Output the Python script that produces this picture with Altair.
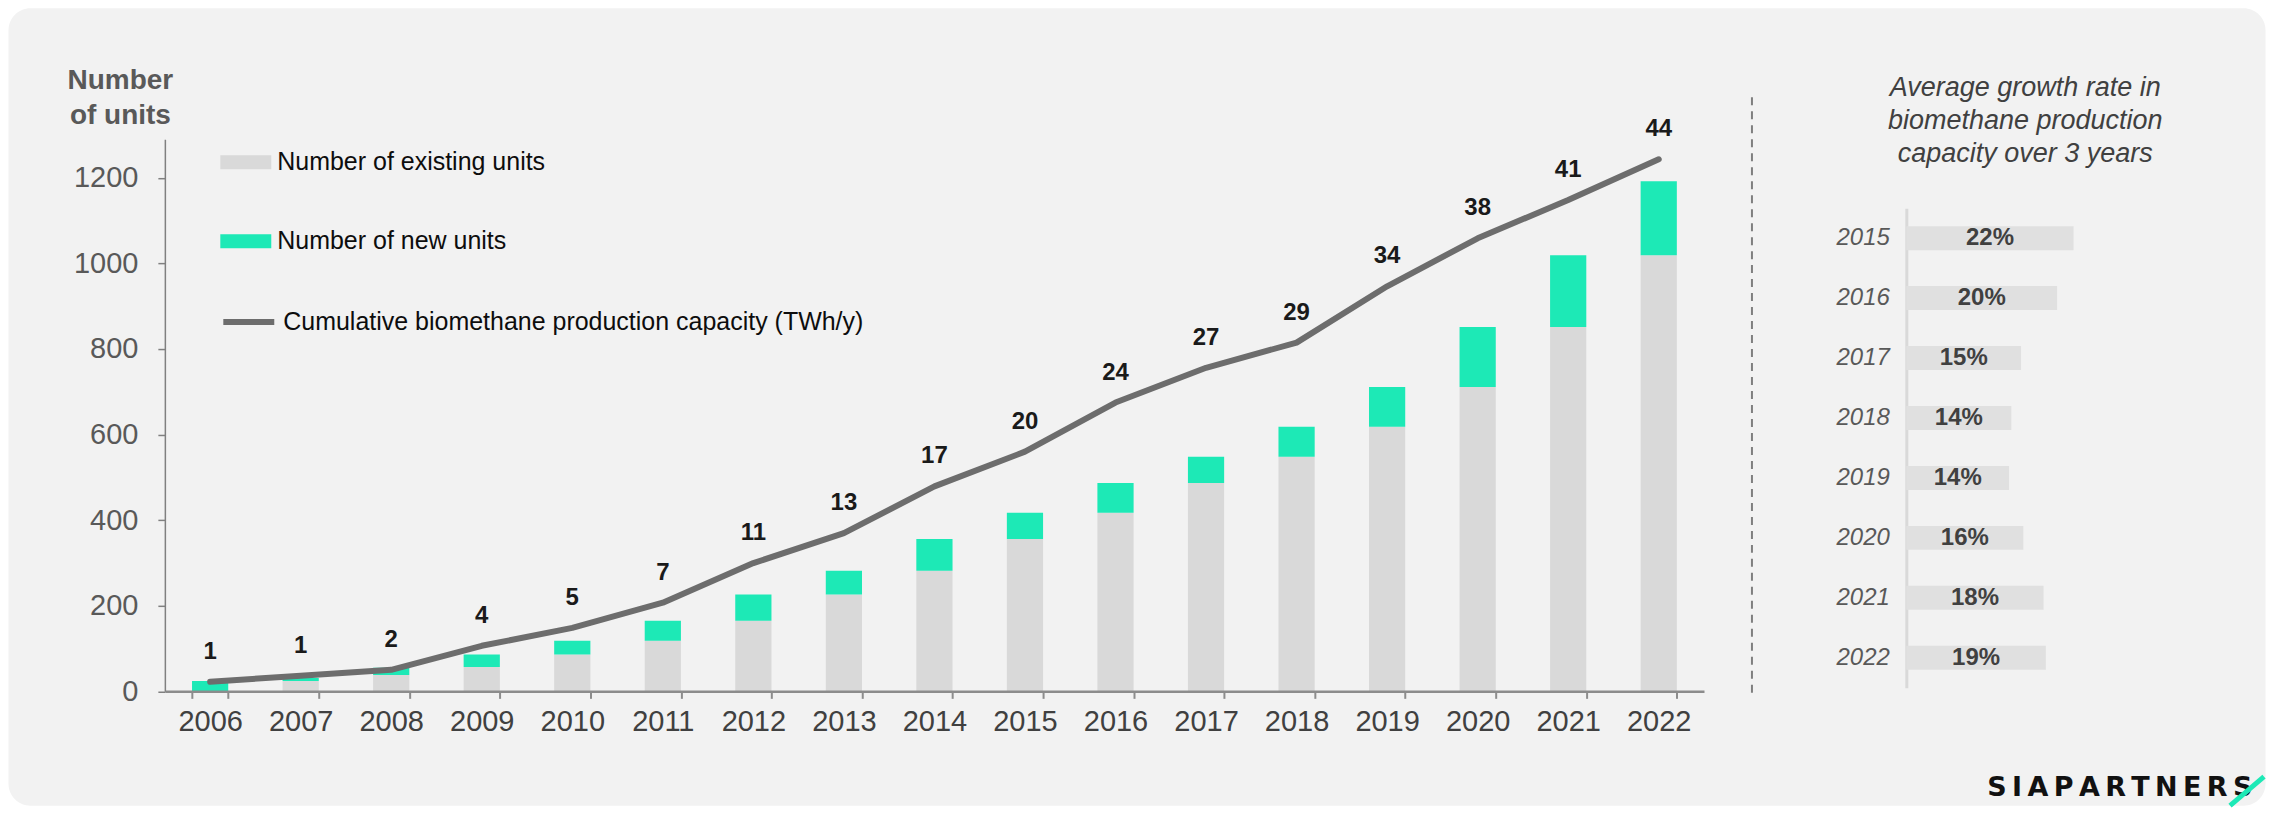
import altair as alt
import pandas as pd

# ---------------- data ----------------
years = [str(y) for y in range(2006, 2023)]
existing_units = [0, 24, 38, 57, 86, 118, 165, 226, 282, 356, 417, 487, 548, 618, 711, 851, 1019]
new_units = [24, 7, 17, 29, 32, 47, 61, 56, 74, 61, 70, 61, 70, 93, 140, 168, 173]
capacity_twh = [0.8, 1.3, 1.8, 3.8, 5.3, 7.4, 10.7, 13.2, 17.1, 20.0, 24.1, 27.0, 29.1, 33.8, 37.8, 41.0, 44.4]

growth_years = [str(y) for y in range(2015, 2023)]
growth_rate = [22.3, 20.1, 15.3, 14.0, 13.7, 15.6, 18.3, 18.6]

series_names = ["Number of existing units", "Number of new units"]
line_name = "Cumulative biomethane production capacity (TWh/y)"
y_ticks = [0, 200, 400, 600, 800, 1000, 1200]
growth_title = ["Average growth rate in", "biomethane production", "capacity over 3 years"]
logo_text = "\u2009".join("SIAPARTNERS")

# ---------------- tables ----------------
bar_rows = []
for i, y in enumerate(years):
    bar_rows.append({"year": y, "series": series_names[0], "units": existing_units[i], "ord": 0})
    bar_rows.append({"year": y, "series": series_names[1], "units": new_units[i], "ord": 1})
bar_df = pd.DataFrame(bar_rows)
cap_df = pd.DataFrame({"year": years, "capacity": capacity_twh, "series": [line_name] * len(years)})
growth_df = pd.DataFrame({"year": growth_years, "growth": growth_rate})
one = pd.DataFrame({"k": [0]})

SANS = "Liberation Sans, Arial, sans-serif"
rect_path = "M-1,-0.275L1,-0.275L1,0.275L-1,0.275Z"

LW = 1540.5
LH = 552.6

x_enc = alt.X(
    "year:N", sort=years,
    scale=alt.Scale(paddingInner=0.6, paddingOuter=0.3),
    axis=alt.Axis(title=None, labelAngle=0, labelFont=SANS, labelFontSize=29, zindex=1,
                  labelColor="#404040", labelPadding=9, tickBand="extent", tickSize=7,
                  tickWidth=2, tickColor="#8c8c8c", domainColor="#8c8c8c", domainWidth=2.5),
)

bg = alt.Chart(one).mark_rect(fill="#f2f2f2", cornerRadius=22).encode(
    x=alt.value(-156.5), x2=alt.value(2102.5), y=alt.value(-131), y2=alt.value(667)
)

divider = alt.Chart(one).mark_rule(color="#7f7f7f", strokeWidth=2, strokeDash=[8, 6]).encode(
    x=alt.value(1588.5), y=alt.value(-42), y2=alt.value(559)
)

bars = alt.Chart(bar_df).mark_bar().encode(
    x=x_enc,
    y=alt.Y("units:Q", stack="zero",
            scale=alt.Scale(domain=[0, 1290], nice=False),
            axis=alt.Axis(values=y_ticks, format="d", grid=False, labelFont=SANS, labelFontSize=29,
                          zindex=1, labelColor="#595959", labelPadding=20, tickSize=7, tickWidth=1.5,
                          tickColor="#808080", domainColor="#808080", domainWidth=1.5,
                          title=["Number", "of units"], titleAngle=0, titleAlign="center",
                          titleBaseline="alphabetic", titleX=-45, titleY=-51,
                          titleFont=SANS, titleFontSize=28, titleFontWeight="bold",
                          titleColor="#595959", titleLineHeight=35)),
    color=alt.Color("series:N",
                    scale=alt.Scale(domain=series_names, range=["#d9d9d9", "#1de9b6"]),
                    legend=alt.Legend(title=None, orient="none", legendX=55.5, legendY=-2.5,
                                      direction="vertical", symbolType=rect_path, symbolSize=2601,
                                      symbolStrokeWidth=0, labelFont=SANS, labelFontSize=25,
                                      labelColor="#0d0d0d", labelOffset=6, rowPadding=40,
                                      padding=0, labelLimit=900)),
    order=alt.Order("ord:Q"),
)

cap_scale = alt.Scale(domain=[0, 46.07], nice=False)

line = alt.Chart(cap_df).mark_line(strokeWidth=6, strokeCap="round", strokeJoin="round").encode(
    x=alt.X("year:N", sort=years),
    y=alt.Y("capacity:Q", scale=cap_scale, axis=None),
    stroke=alt.Stroke("series:N", scale=alt.Scale(domain=[line_name], range=["#6d6d6d"]),
                      legend=alt.Legend(title=None, orient="none", legendX=55.5, legendY=154.5,
                                        symbolType="stroke", symbolSize=2601, symbolStrokeWidth=6,
                                        labelFont=SANS, labelFontSize=25, labelColor="#0d0d0d",
                                        labelOffset=6, padding=0, labelLimit=900)),
)

cap_labels = alt.Chart(cap_df).mark_text(
    dy=-30, font=SANS, fontSize=24, fontWeight="bold", color="#1a1a1a", baseline="middle"
).encode(
    x=alt.X("year:N", sort=years),
    y=alt.Y("capacity:Q", scale=cap_scale, axis=None),
    text=alt.Text("capacity:Q", format=".0f"),
)

left = alt.layer(bg, divider, bars, line, cap_labels).resolve_scale(y="independent").properties(
    width=LW, height=LH
)

# ---------------- right panel ----------------
gy = alt.Y("year:N", sort=growth_years,
           scale=alt.Scale(range=[69, 549], paddingInner=0.6, paddingOuter=0.3),
           axis=alt.Axis(title=None, ticks=False, labelFont=SANS, labelFontSize=24,
                         labelFontStyle="italic", labelColor="#595959", labelPadding=17,
                         domainColor="#d9d9d9", domainWidth=3))
gx_scale = alt.Scale(domain=[0, 31.7], nice=False)

gbars = alt.Chart(growth_df).mark_bar(color="#e0e0e0").encode(
    y=gy, x=alt.X("growth:Q", scale=gx_scale, axis=None)
)
gtext = alt.Chart(growth_df).transform_calculate(
    mid="datum.growth / 2", pct="datum.growth / 100"
).mark_text(font=SANS, fontSize=24, fontWeight="bold", color="#404040", baseline="middle").encode(
    y=gy, x=alt.X("mid:Q", scale=gx_scale, axis=None), text=alt.Text("pct:Q", format=".0%")
)

logo = alt.Chart(one).mark_text(
    text=logo_text, font="DejaVu Sans", fontSize=27, fontWeight="bold", color="#111111",
    align="left", baseline="alphabetic"
).encode(x=alt.value(81), y=alt.value(657))
slash = alt.Chart(one).mark_rule(color="#1de9b6", strokeWidth=5).encode(
    x=alt.value(324), y=alt.value(667), x2=alt.value(358), y2=alt.value(638)
)

right = alt.layer(gbars, gtext, logo, slash).properties(
    width=238, height=LH,
    title=alt.TitleParams(text=growth_title, anchor="middle", frame="group", offset=-29,
                          font=SANS, fontSize=27, fontStyle="italic", fontWeight="normal",
                          color="#404040", lineHeight=33),
)

chart = alt.hconcat(left, right, spacing=202, bounds="flush").properties(
    padding=0
).configure(background="white").configure_view(stroke=None)

chart.save("out.html", embed_options={"renderer": "svg", "actions": False})
